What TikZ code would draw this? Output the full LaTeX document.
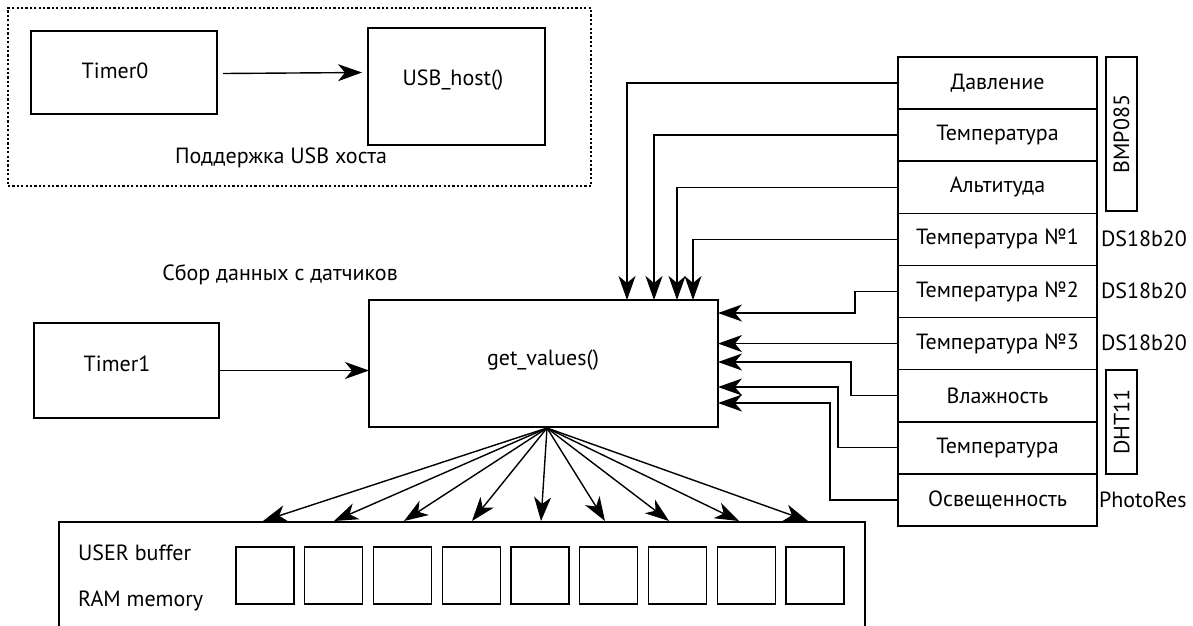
\documentclass[tikz,border=0pt]{standalone}
\usepackage{fontspec}
\setmainfont{PT Sans}
\usetikzlibrary{arrows.meta,calc}
\begin{document}
\begin{tikzpicture}[x=1pt,y=-1pt,
  every node/.style={font=\fontsize{22}{26}\selectfont, inner sep=0pt, outer sep=0pt},
  box/.style={draw, line width=1.2pt, anchor=north west},
  thickbox/.style={draw, line width=2.2pt, anchor=north west},
  arr/.style={line width=1.4pt, -{Stealth[length=24pt,width=17pt,inset=7pt]}},
  txt/.style={anchor=center},
  rowbox/.style={draw, line width=1.6pt, anchor=north west, minimum width=199pt, minimum height=52.1pt},
  tagbox/.style={draw, line width=1.2pt, anchor=north west, minimum width=31pt}]
\useasboundingbox (0,0) rectangle (1193,625);

% USB host group
\node[draw, line width=1.5pt, dash pattern=on 2.2pt off 2.2pt, anchor=north west, minimum width=583pt, minimum height=178pt] (grp) at (8,8) {};
\node[box, minimum width=186pt, minimum height=83pt] (t0) at (31,31) {};
\node[txt] (t0t) at (115,71) {Timer0};
\node[thickbox, minimum width=177pt, minimum height=117pt] (usb) at (368,28) {};
\node[txt] (usbt) at (453,80) {USB\_host()};
\draw[arr] ([xshift=6pt,yshift=-1pt]t0.east) -- ([xshift=-6pt,yshift=14pt]usb.west);
\node[txt] (grpt) at (281,158) {Поддержка USB хоста};

% data collection
\node[txt] (sbor) at (280,275) {Сбор данных с датчиков};
\node[box, minimum width=185pt, minimum height=95pt] (t1) at (34,323) {};
\node[txt] (t1t) at (117,364) {Timer1};
\node[thickbox, minimum width=349pt, minimum height=127pt] (get) at (369,300) {};
\node[txt] (gett) at (543,360) {get\_values()};
\draw[arr] (t1.east) -- (get.west |- t1.east);

% sensor rows
\node[rowbox] (r1) at (898,57) {Давление};
\node[rowbox] (r2) at (898,109.1) {Температура};
\node[rowbox] (r3) at (898,161.2) {Альтитуда};
\node[rowbox] (r4) at (898,213.3) {Температура №1};
\node[rowbox] (r5) at (898,265.4) {Температура №2};
\node[rowbox] (r6) at (898,317.5) {Температура №3};
\node[rowbox] (r7) at (898,369.6) {Влажность};
\node[rowbox] (r8) at (898,421.7) {Температура};
\node[rowbox] (r9) at (898,473.8) {Освещенность};

\node[tagbox, minimum height=154pt] (bmp) at (1106,57) {};
\node[txt, rotate=90] (bmpt) at (bmp.center) {BMP085};
\node[tagbox, minimum height=104pt] (dht) at (1106,370) {};
\node[txt, rotate=90] (dhtt) at (dht.center) {DHT11};
\node[anchor=west] (ds1) at (1101,239) {DS18b20};
\node[anchor=west] (ds2) at (1101,291) {DS18b20};
\node[anchor=west] (ds3) at (1101,343) {DS18b20};
\node[anchor=west] (ph) at (1099,500) {PhotoRes};

% connectors into get_values (top)
\draw[arr] (r1.west) -| ([xshift=258pt]get.north west);
\draw[arr] (r2.west) -| ([xshift=285pt]get.north west);
\draw[arr] (r3.west) -| ([xshift=308pt]get.north west);
\draw[arr] (r4.west) -| ([xshift=324pt]get.north west);
% connectors into get_values (right)
\draw[arr] (r5.west) -- ++(-43,0) |- ([yshift=-13pt]get.north east);
\draw[arr] (r6.west) -- (get.east |- r6.west);
\draw[arr] (r7.west) -- ++(-47,0) |- ([yshift=-62pt]get.north east);
\draw[arr] (r8.west) -- ++(-60,0) |- ([yshift=-87pt]get.north east);
\draw[arr] (r9.west) -- ++(-68,0) |- ([yshift=-103pt]get.north east);

% buffer
\node[box, minimum width=806pt, minimum height=130pt] (buf) at (59,522) {};
\node[anchor=west] (ubt) at (78,553) {USER buffer};
\node[anchor=west] (rmt) at (78,601) {RAM memory};
\foreach \i in {0,...,8} {
  \node[box, minimum width=58pt, minimum height=57pt] (c\i) at ({236+\i*68.75},547) {};
}
\coordinate (fan) at ([xshift=3.5pt,yshift=-1pt]get.south);
\foreach \o in {204,275,345,413,482,546,610,680,749} {
  \draw[arr] (fan) -- ([xshift=\o pt,yshift=1pt]buf.north west);
}
\end{tikzpicture}
\end{document}
